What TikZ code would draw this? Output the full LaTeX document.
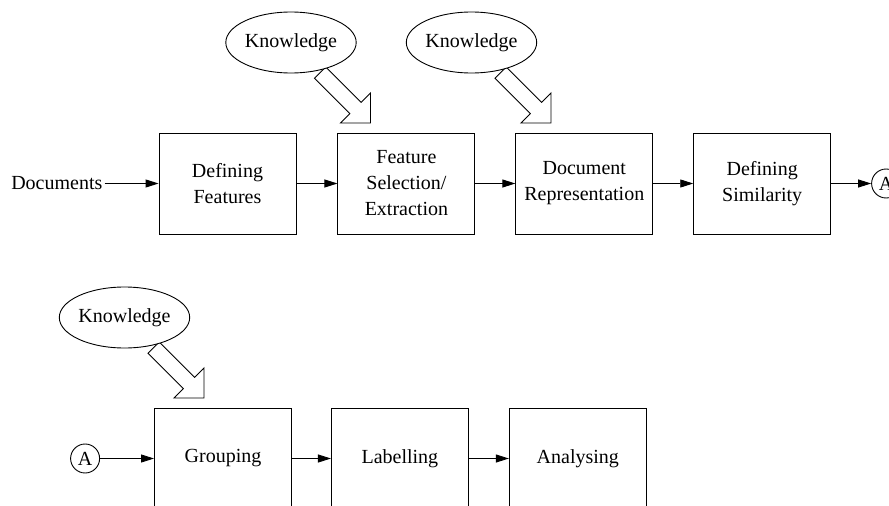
\documentclass[tikz,border=0pt]{standalone}
\usepackage{fontspec}
\setmainfont{Liberation Serif}
\usepackage{tikz}
\usetikzlibrary{positioning,arrows.meta,calc,backgrounds,shapes.geometric}
\tikzset{
  proc/.style  ={draw, line width=0.9pt, minimum width=137pt, minimum height=101pt,
                 align=center, inner sep=2pt, font=\fontsize{20}{26}\selectfont},
  know/.style  ={ellipse, draw, line width=0.9pt, fill=white, minimum width=130pt,
                 minimum height=61pt, inner sep=0pt, font=\fontsize{20}{24}\selectfont},
  conn/.style  ={circle, draw, line width=0.9pt, minimum size=29pt, inner sep=0pt,
                 font=\fontsize{20}{24}\selectfont},
  lbl/.style   ={inner sep=2pt, font=\fontsize{20}{24}\selectfont},
  flow/.style  ={-{Triangle[length=13pt,width=8pt]}, line width=0.9pt},
  hollow/.style={draw, fill=white, line width=0.9pt, line join=miter},
}
% fat open arrow from a knowledge ellipse down-right onto a box
\newcommand{\kbarrow}[1]{%
  \draw[hollow] ($(#1.center)+(79.5,80.5)$) -- ++(-30,0) -- ++(9.34,-9.34)
    -- ++(-35.34,-35.36) -- ++(11.3,-11.3) -- ++(35.36,35.34) -- ++(9.34,-9.34) -- cycle;}

\begin{document}
\begin{tikzpicture}[x=1pt, y=-1pt]
  \useasboundingbox (0,0) rectangle (889,506);

  % ---- first row ----
  \node[proc] (deffeat) at (227.5,183.5) {Defining\\Features};
  \node[proc, right=41pt of deffeat] (select) {Feature\\Selection/\\Extraction};
  \node[proc, right=40pt of select] (docrep) {Document\\Representation};
  \node[proc, right=40pt of docrep] (defsim) {Defining\\Similarity};
  \node[lbl, left=54pt of deffeat] (docs) {Documents};
  \node[conn, right=40pt of defsim] (aout) {A};

  % ---- second row ----
  \node[proc] (group) at (223,458.5) {Grouping};
  \node[proc, right=39pt of group] (label) {Labelling};
  \node[proc, right=40pt of label] (analyse) {Analysing};
  \node[conn, left=54pt of group] (ain) {A};

  % ---- knowledge ----
  \node[know] (know1) at (291,42.5) {Knowledge};
  \node[know] (know2) at (471.5,42.5) {Knowledge};
  \node[know] (know3) at (124.5,317.5) {Knowledge};

  \begin{scope}[on background layer]
    \kbarrow{know1}
    \kbarrow{know2}
    \kbarrow{know3}
  \end{scope}

  % ---- edges ----
  \draw[flow] (docs) -- (deffeat);
  \draw[flow] (deffeat) -- (select);
  \draw[flow] (select) -- (docrep);
  \draw[flow] (docrep) -- (defsim);
  \draw[flow] (defsim) -- (aout);
  \draw[flow] (ain) -- (group);
  \draw[flow] (group) -- (label);
  \draw[flow] (label) -- (analyse);

\end{tikzpicture}
\end{document}
